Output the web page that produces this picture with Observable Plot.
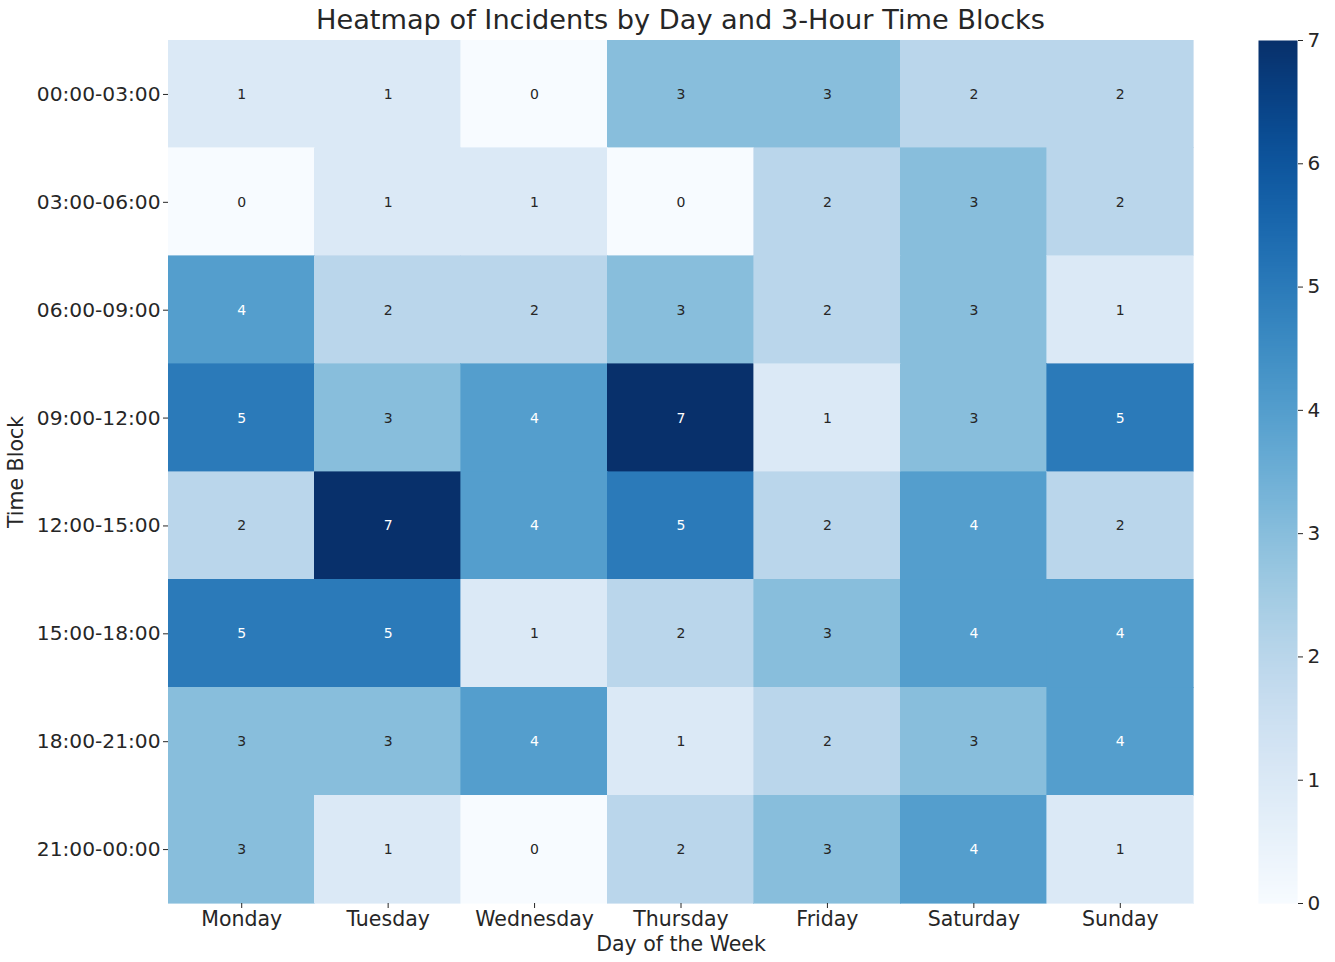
<!DOCTYPE html>
<html>
<head>
<meta charset="utf-8">
<script src="https://cdn.jsdelivr.net/npm/d3@7"></script>
<script src="https://cdn.jsdelivr.net/npm/@observablehq/plot@0.6"></script>
<style>
  html, body { margin: 0; padding: 0; background: #fff; }
  #wrap { position: relative; width: 1335px; height: 962px; font-family: "DejaVu Sans", sans-serif; }
  #wrap > svg, #wrap > div { position: absolute; }
  #title { position: absolute; left: 168px; width: 1025px; top: 3px; text-align: center; font-size: 27.2px; line-height: 34px; color: #262626; }
</style>
</head>
<body>
<div id="wrap"><div id="title">Heatmap of Incidents by Day and 3-Hour Time Blocks</div></div>
<script>
const days = ["Monday", "Tuesday", "Wednesday", "Thursday", "Friday", "Saturday", "Sunday"];
const timeBlocks = ["00:00-03:00", "03:00-06:00", "06:00-09:00", "09:00-12:00", "12:00-15:00", "15:00-18:00", "18:00-21:00", "21:00-00:00"];
const block0003 = [1, 1, 0, 3, 3, 2, 2];
const block0306 = [0, 1, 1, 0, 2, 3, 2];
const block0609 = [4, 2, 2, 3, 2, 3, 1];
const block0912 = [5, 3, 4, 7, 1, 3, 5];
const block1215 = [2, 7, 4, 5, 2, 4, 2];
const block1518 = [5, 5, 1, 2, 3, 4, 4];
const block1821 = [3, 3, 4, 1, 2, 3, 4];
const block2100 = [3, 1, 0, 2, 3, 4, 1];
const colorbarTicks = [0, 1, 2, 3, 4, 5, 6, 7];

const rows = [block0003, block0306, block0609, block0912, block1215, block1518, block1821, block2100];
const data = [];
rows.forEach((vals, i) => vals.forEach((v, j) => data.push({time: timeBlocks[i], day: days[j], count: v})));

const colorOpts = {type: "linear", scheme: "blues", domain: [0, 7]};
const textDark = "#262626";

const main = Plot.plot({
  width: 1335,
  height: 962,
  marginLeft: 168,
  marginRight: 142,
  marginTop: 40,
  marginBottom: 59,
  style: {fontFamily: "DejaVu Sans, sans-serif", fontSize: "20px", color: textDark, background: "transparent"},
  x: {domain: days, padding: 0, round: false, label: null},
  y: {domain: timeBlocks, padding: 0, round: false, label: null},
  color: colorOpts,
  marks: [
    Plot.cell(data, {x: "day", y: "time", fill: "count", stroke: "count", strokeWidth: 0.6, shapeRendering: "crispEdges"}),
    Plot.text(data, {x: "day", y: "time", text: d => String(d.count), fontSize: 14,
      fill: d => d.count >= 4 ? "#ffffff" : textDark}),
    Plot.axisX({domain: days, tickSize: 5, tickPadding: 3, fontSize: 20.5, label: null}),
    Plot.axisY({domain: timeBlocks, tickSize: 5, tickPadding: 3, fontSize: 20.2, label: null}),
    Plot.text(["Day of the Week"], {frameAnchor: "bottom", dy: 47, fontSize: 20.5, fill: textDark}),
    Plot.text(["Time Block"], {frameAnchor: "left", textAnchor: "middle", dx: -152, rotate: -90, fontSize: 20.5, fill: textDark})
  ]
});
main.style.left = "0px";
main.style.top = "0px";

const bar = Plot.plot({
  width: 80,
  height: 962,
  marginLeft: 0,
  marginRight: 41,
  marginTop: 40,
  marginBottom: 59,
  style: {fontFamily: "DejaVu Sans, sans-serif", fontSize: "20px", color: textDark, background: "transparent", overflow: "visible"},
  x: {domain: [0, 1], axis: null},
  y: {domain: [0, 7], axis: null},
  color: colorOpts,
  marks: [
    Plot.raster({x1: 0, x2: 1, y1: 0, y2: 7, width: 1, height: 400, fill: (x, y) => y, imageRendering: "auto"}),
    Plot.axisY(colorbarTicks, {anchor: "right", tickSize: 5, tickPadding: 5, fontSize: 20, tickFormat: d3.format("d"), label: null})
  ]
});
bar.style.left = "1258px";
bar.style.top = "0px";

const wrap = document.getElementById("wrap");
wrap.appendChild(main);
wrap.appendChild(bar);
</script>
</body>
</html>
